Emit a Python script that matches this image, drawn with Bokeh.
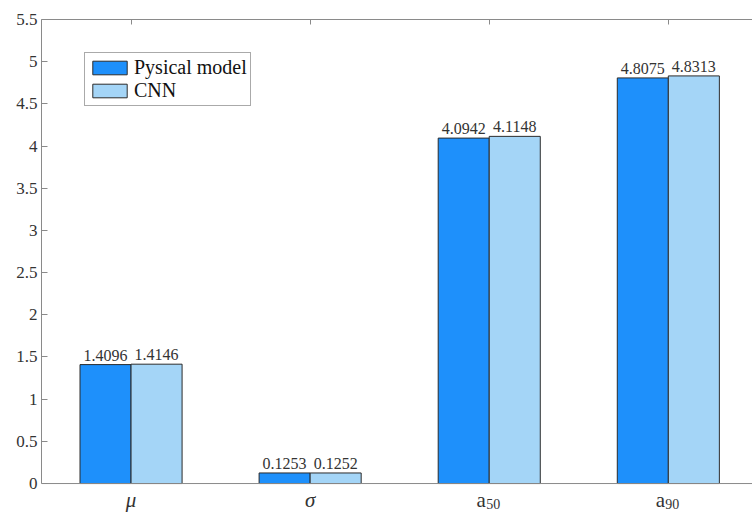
from bokeh.plotting import figure
from bokeh.models import (ColumnDataSource, Range1d, FixedTicker, Legend,
                          LegendItem, LabelSet, Span)
from bokeh.core.properties import value
from bokeh.embed import file_html
from bokeh.resources import INLINE

categories = ["μ", "σ", "a50", "a90"]
physical = [1.4096, 0.1253, 4.0942, 4.8075]
cnn = [1.4146, 0.1252, 4.1148, 4.8313]
y_ticks = [0, 0.5, 1, 1.5, 2, 2.5, 3, 3.5, 4, 4.5, 5, 5.5]

FONT = "Liberation Serif"
BLUE = "#1e90fb"
LIGHT = "#a4d5f7"
AX = "#8a8a8a"
TXT = "#333333"

xs = list(range(1, len(categories) + 1))
bw = 0.285

src = ColumnDataSource(dict(
    x1=[x - bw / 2 for x in xs], x2=[x + bw / 2 for x in xs],
    phys=physical, cnn=cnn,
    phys_lbl=[f"{v:.4f}" for v in physical], cnn_lbl=[f"{v:.4f}" for v in cnn],
))

p = figure(width=752, height=514, output_backend="svg", toolbar_location=None,
           x_range=Range1d(0.5, 4.47), y_range=Range1d(-0.367, 5.5),
           x_axis_location="above",
           min_border_left=41, min_border_top=19, min_border_bottom=0, min_border_right=0)
p.outline_line_color = None
p.xgrid.visible = False
p.ygrid.visible = False
p.background_fill_color = "white"

r1 = p.vbar(x="x1", top="phys", width=bw, source=src, fill_color=BLUE,
            line_color="#2b2b2b", line_width=1)
r2 = p.vbar(x="x2", top="cnn", width=bw, source=src, fill_color=LIGHT,
            line_color="#2b2b2b", line_width=1)

# baseline (bottom axis line)
p.add_layout(Span(location=0, dimension="width", line_color=AX, line_width=1))

for col, lbl in (("x1", "phys_lbl"), ("x2", "cnn_lbl")):
    ycol = "phys" if col == "x1" else "cnn"
    ls = LabelSet(x=col, y=ycol, text=lbl, source=src, text_align="center",
                  text_baseline="bottom", y_offset=4, text_font=FONT,
                  text_font_size="16px", text_color=TXT)
    p.add_layout(ls)

# y axis
ya = p.yaxis[0]
ya.ticker = FixedTicker(ticks=y_ticks)
ya.bounds = (0, 5.5)
ya.major_label_overrides = {0: "0", 1: "1", 2: "2", 3: "3", 4: "4", 5: "5"}
ya.major_tick_in = 6
ya.major_tick_out = 0
ya.minor_tick_in = 0
ya.minor_tick_out = 0
ya.axis_line_color = AX
ya.major_tick_line_color = AX
ya.major_label_text_font = FONT
ya.major_label_text_font_size = "17px"
ya.major_label_text_color = TXT
ya.major_label_standoff = 4

# top axis (box edge with inward ticks at categories)
ta = p.xaxis[0]
ta.ticker = FixedTicker(ticks=xs)
ta.major_tick_in = 5
ta.major_tick_out = 0
ta.minor_tick_in = 0
ta.minor_tick_out = 0
ta.axis_line_color = AX
ta.major_tick_line_color = AX
ta.major_label_text_font_size = "0px"
ta.major_label_text_alpha = 0

# category labels (drawn below the baseline)
base_y = -0.19
sub_y = -0.245
greek_x = [x for x, c in zip(xs, categories) if not c.startswith("a")]
greek_t = [c for c in categories if not c.startswith("a")]
a_x = [x for x, c in zip(xs, categories) if c.startswith("a")]
a_sub = [c[1:] for c in categories if c.startswith("a")]

p.text(x=greek_x, y=[base_y] * len(greek_x), text=greek_t, text_align="center",
       text_baseline="alphabetic", text_font=value(FONT), text_font_style="italic",
       text_font_size="21px", text_color=TXT)
p.text(x=a_x, y=[base_y] * len(a_x), text=["a"] * len(a_x), text_align="center",
       x_offset=-8, text_baseline="alphabetic", text_font=value(FONT),
       text_font_size="21px", text_color=TXT)
p.text(x=a_x, y=[sub_y] * len(a_x), text=a_sub, text_align="left",
       x_offset=-3, text_baseline="alphabetic", text_font=value(FONT),
       text_font_size="14px", text_color=TXT)

legend = Legend(items=[LegendItem(label="Pysical model", renderers=[r1]),
                       LegendItem(label="CNN", renderers=[r2])],
                location=(43, 408), glyph_width=43, glyph_height=17,
                label_text_font=FONT, label_text_font_size="20px", label_text_color="#111111",
                label_standoff=3, spacing=0, padding=3, margin=0,
                border_line_color="#555555", background_fill_alpha=1)
p.add_layout(legend)

open("out.html", "w").write(file_html(p, INLINE))
